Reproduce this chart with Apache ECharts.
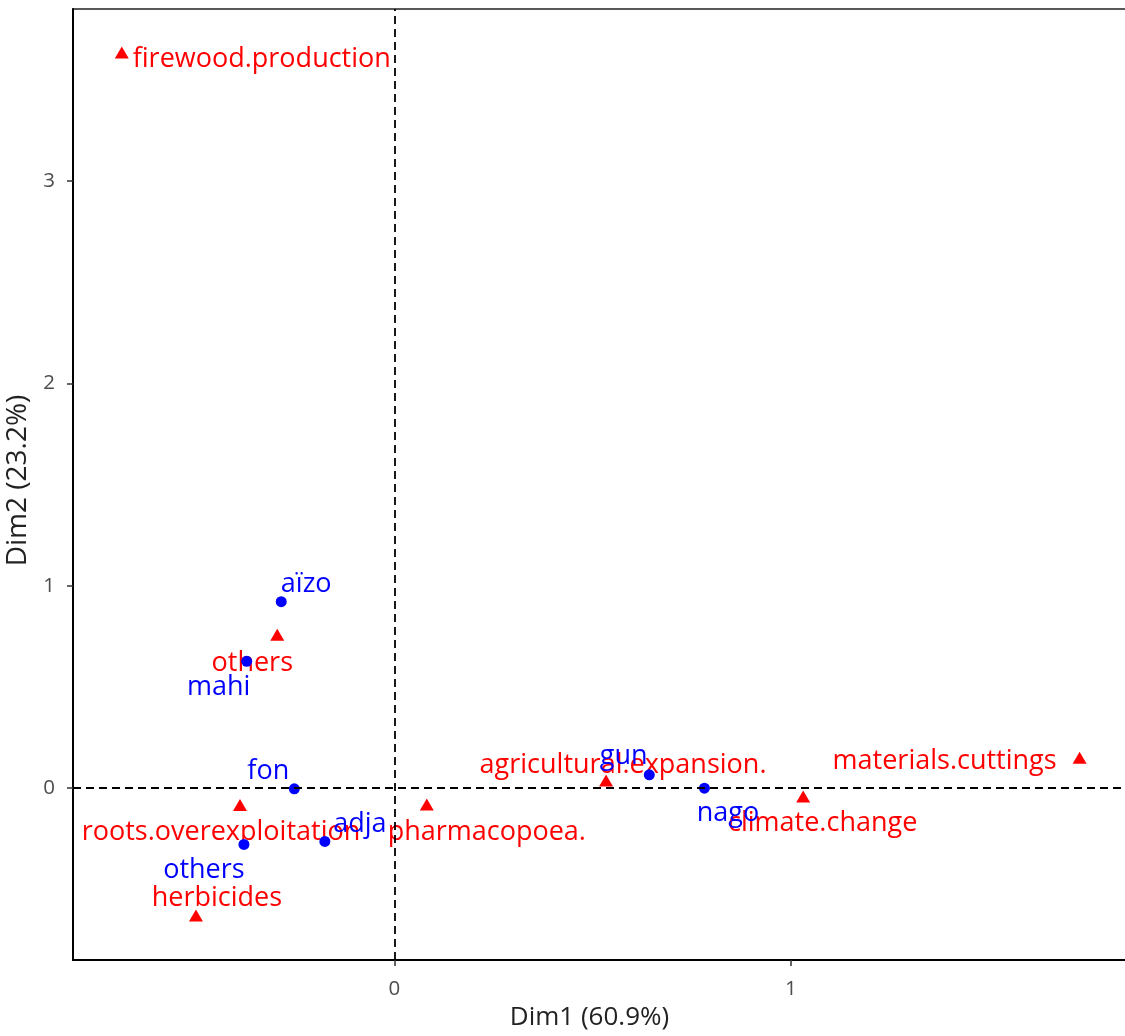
<!DOCTYPE html>
<html>
<head>
<meta charset="utf-8">
<script src="https://cdn.jsdelivr.net/npm/echarts@6/dist/echarts.min.js"></script>
<style>
html, body { margin: 0; padding: 0; background: #ffffff; }
#chart { width: 1125px; height: 1036px; }
</style>
</head>
<body>
<div id="chart"></div>
<script>
// ---------- DATA ----------
// Column categories (threats) - red triangles
const varNames = ['firewood.production', 'others', 'roots.overexploitation', 'herbicides',
                  'pharmacopoea.', 'agricultural.expansion.', 'climate.change', 'materials.cuttings'];
const varDim1 = [-0.687, -0.295, -0.389, -0.500, 0.082, 0.534, 1.031, 1.728];
const varDim2 = [3.635, 0.758, -0.084, -0.630, -0.081, 0.037, -0.042, 0.149];

// Row categories (ethnic groups) - blue points
const grpNames = ['aïzo', 'mahi', 'fon', 'others', 'adja', 'gun', 'nago'];
const grpDim1 = [-0.285, -0.372, -0.252, -0.379, -0.175, 0.643, 0.782];
const grpDim2 = [0.921, 0.626, -0.004, -0.279, -0.264, 0.065, -0.001];

// Tick labels and axis titles
const xTicks = [0, 1];
const yTicks = [0, 1, 2, 3];
const xTitle = 'Dim1 (60.9%)';
const yTitle = 'Dim2 (23.2%)';

// ---------- STYLE (label placement offsets in px, relative to the mark) ----------
const varLabelOffset = [[140, 6.5], [-25, 28.5], [-19, 27.5], [21, -17], [60, 27.5], [17, -15], [19.5, 27], [-135, 3.5]];
const grpLabelOffset = [[25, -17], [-28, 26], [-26, -18], [-40, 25.5], [35, -17], [-25.6, -19], [23.5, 25.5]];

const FONT = '"Open Sans", "Liberation Sans", sans-serif';
const RED = '#FF0000';
const BLUE = '#0000FF';

const chart = echarts.init(document.getElementById('chart'), null, { renderer: 'canvas' });

const varData = varNames.map((n, i) => ({
  name: n,
  value: [varDim1[i], varDim2[i]],
  label: { offset: varLabelOffset[i] }
}));
const grpData = grpNames.map((n, i) => ({
  name: n,
  value: [grpDim1[i], grpDim2[i]],
  label: { offset: grpLabelOffset[i] }
}));

const labelBase = {
  show: true,
  position: 'inside',
  formatter: '{b}',
  fontFamily: FONT,
  fontSize: 27,
  align: 'center',
  verticalAlign: 'middle',
  textBorderWidth: 0,
  opacity: 1
};

const option = {
  animation: false,
  backgroundColor: '#ffffff',
  grid: {
    left: 73, top: 9, width: 1055, height: 951,
    show: true, borderColor: '#222', borderWidth: 1.5,
    containLabel: false, outerBoundsMode: 'none'
  },
  xAxis: {
    type: 'value', min: -0.81, max: 1.85,
    name: xTitle, nameLocation: 'middle', nameGap: 40,
    nameTextStyle: { fontFamily: FONT, fontSize: 26, color: '#222', padding: [5, 22, 0, 0] },
    axisLine: { show: true, onZero: false, lineStyle: { color: '#000', width: 2 } },
    axisTick: { show: true, customValues: xTicks, length: 6, lineStyle: { color: '#333', width: 1.5 } },
    axisLabel: { customValues: xTicks, fontFamily: FONT, fontSize: 20.5, color: '#4D4D4D', margin: 19 },
    splitLine: { show: false }
  },
  yAxis: {
    type: 'value', min: -0.85, max: 3.85,
    name: yTitle, nameLocation: 'middle', nameGap: 32, nameRotate: 90,
    nameTextStyle: { fontFamily: FONT, fontSize: 28, color: '#222', padding: [0, 0, 0, 8] },
    axisLine: { show: true, onZero: false, lineStyle: { color: '#000', width: 2 } },
    axisTick: { show: true, customValues: yTicks, length: 6, lineStyle: { color: '#333', width: 1.5 } },
    axisLabel: { customValues: yTicks, fontFamily: FONT, fontSize: 20.5, color: '#4D4D4D', margin: 18 },
    splitLine: { show: false }
  },
  series: [
    {
      type: 'scatter', data: [], silent: true, z: 1,
      markLine: {
        silent: true, symbol: ['none', 'none'], label: { show: false },
        lineStyle: { type: [8, 5], color: '#000', width: 1.8, opacity: 1 },
        data: [{ xAxis: 0 }, { yAxis: 0 }]
      }
    },
    {
      name: 'threats', type: 'scatter', z: 3,
      symbol: 'triangle', symbolSize: [14, 12],
      itemStyle: { color: RED, opacity: 1 },
      label: Object.assign({}, labelBase, { color: RED }),
      emphasis: { disabled: true },
      data: varData
    },
    {
      name: 'groups', type: 'scatter', z: 4,
      symbol: 'circle', symbolSize: 11,
      itemStyle: { color: BLUE, opacity: 1 },
      label: Object.assign({}, labelBase, { color: BLUE }),
      emphasis: { disabled: true },
      data: grpData
    }
  ]
};

chart.setOption(option);
</script>
</body>
</html>
